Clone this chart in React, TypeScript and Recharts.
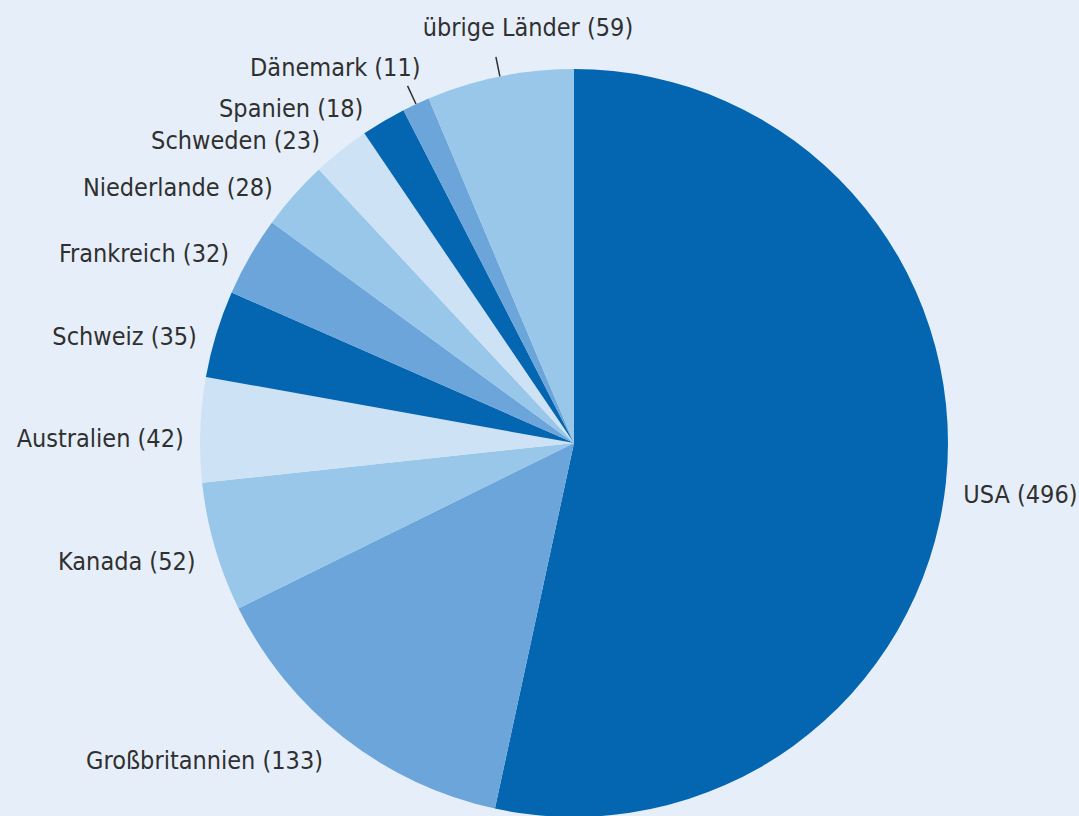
import React from 'react'
import { PieChart, Pie, Cell } from 'recharts'

const countries = [
    'USA', 'Großbritannien', 'Kanada', 'Australien', 'Schweiz', 'Frankreich',
    'Niederlande', 'Schweden', 'Spanien', 'Dänemark', 'übrige Länder',
]
const counts = [496, 133, 52, 42, 35, 32, 28, 23, 18, 11, 59]

const DARK = '#0466b0'
const MID = '#6ba5da'
const LIGHT = '#98c7ea'
const PALE = '#cde2f5'
const sliceColors = [DARK, MID, LIGHT, PALE, DARK, MID, LIGHT, PALE, DARK, MID, LIGHT]

const data = countries.map((name, i) => ({ name, value: counts[i] }))

const FONT = "'DejaVu Sans Condensed', 'Liberation Sans', sans-serif"
const TEXT = '#303030'
const RAD = Math.PI / 180
// labels that get a short leader line
const withLine = ['Dänemark', 'übrige Länder']

const renderLabel = (props: any) => {
    const { cx, cy, midAngle, outerRadius, name, value } = props
    const cos = Math.cos(-midAngle * RAD)
    const sin = Math.sin(-midAngle * RAD)
    const txt = `${name} (${value})`

    if (withLine.includes(name)) {
        const x1 = cx + outerRadius * cos
        const y1 = cy + outerRadius * sin
        const x2 = cx + (outerRadius + 20) * cos
        const y2 = cy + (outerRadius + 20) * sin
        const isLast = name === 'übrige Länder'
        return (
            <g>
                <line x1={x1} y1={y1} x2={x2} y2={y2} stroke={TEXT} strokeWidth={1.5} />
                <text
                    x={isLast ? x2 + 32 : x2 + 13}
                    y={isLast ? y2 - 29 : y2 - 18}
                    textAnchor={isLast ? 'middle' : 'end'}
                    dominantBaseline="central"
                    fill={TEXT}
                    fontSize={25}
                    fontFamily={FONT}
                >
                    {txt}
                </text>
            </g>
        )
    }

    const r = outerRadius + 16
    const side = cos >= 0 ? 1 : -1
    const x = cx + r * cos + side * 14 * Math.abs(sin)
    const y = cy + r * sin + 10 + 10 * Math.min(sin, 0)
    return (
        <text
            x={x}
            y={y}
            textAnchor={side > 0 ? 'start' : 'end'}
            dominantBaseline="central"
            fill={TEXT}
            fontSize={25}
            fontFamily={FONT}
        >
            {txt}
        </text>
    )
}

export default function App() {
    return (
        <div style={{ position: 'absolute', top: 0, left: 0, width: 1079, height: 816, background: '#e6eff9', overflow: 'hidden' }}>
            <PieChart width={1079} height={816} margin={{ top: 0, right: 0, bottom: 0, left: 0 }}>
                <Pie
                    data={data}
                    dataKey="value"
                    nameKey="name"
                    cx={574}
                    cy={443}
                    outerRadius={374}
                    startAngle={90}
                    endAngle={-270}
                    stroke="none"
                    label={renderLabel}
                    labelLine={false}
                    isAnimationActive={false}
                >
                    {data.map((d, i) => (
                        <Cell key={d.name} fill={sliceColors[i]} />
                    ))}
                </Pie>
            </PieChart>
        </div>
    )
}
